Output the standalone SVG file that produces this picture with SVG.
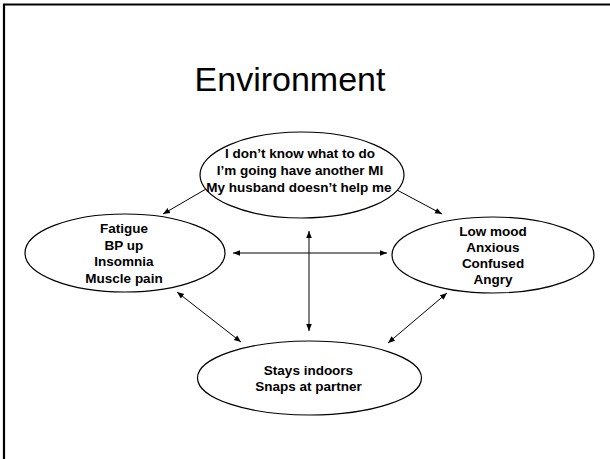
<svg xmlns="http://www.w3.org/2000/svg" width="610" height="459" viewBox="0 0 610 459">
<defs>
<marker id="ah" viewBox="0 0 10 10" refX="10" refY="5" markerWidth="7" markerHeight="7" orient="auto-start-reverse" markerUnits="userSpaceOnUse">
<path d="M0,1 L10,5 L0,9 Z" fill="#000"/>
</marker>
</defs>
<style>
.node ellipse{fill:#fff;stroke:#000;stroke-width:1.2}
.lbl{font-family:"Liberation Sans",Arial,sans-serif;font-weight:bold;font-size:13.5px;text-anchor:middle;fill:#000}
.title{font-family:"Liberation Sans",Arial,sans-serif;font-size:34px;text-anchor:middle;fill:#000}
.conn line{stroke:#000;stroke-width:1}
</style>
<rect x="0" y="0" width="610" height="459" fill="#fff"/>
<g id="frame">
<line x1="3" y1="4.5" x2="610" y2="4.5" stroke="#000" stroke-width="2.2"/>
<line x1="4" y1="4" x2="4" y2="459" stroke="#000" stroke-width="2.2"/>
</g>
<text class="title" x="290" y="91">Environment</text>
<g id="connectors" class="conn">
<line x1="206" y1="189" x2="163" y2="214" marker-end="url(#ah)"/>
<line x1="397" y1="190" x2="442" y2="214" marker-end="url(#ah)"/>
<line x1="233" y1="253" x2="387" y2="253" marker-start="url(#ah)" marker-end="url(#ah)"/>
<line x1="309" y1="231" x2="309" y2="331" marker-start="url(#ah)" marker-end="url(#ah)"/>
<line x1="177" y1="292" x2="241" y2="342" marker-start="url(#ah)" marker-end="url(#ah)"/>
<line x1="447" y1="293" x2="388" y2="343" marker-start="url(#ah)" marker-end="url(#ah)"/>
</g>
<g id="thoughts" class="node">
<ellipse cx="302" cy="175" rx="102" ry="43"/>
<text class="lbl" x="300" y="158">I don’t know what to do</text>
<text class="lbl" x="300" y="175">I’m going have another MI</text>
<text class="lbl" x="299" y="192">My husband doesn’t help me</text>
</g>
<g id="physical" class="node">
<ellipse cx="125" cy="253" rx="100" ry="39"/>
<text class="lbl" x="124" y="233">Fatigue</text>
<text class="lbl" x="124" y="249.5">BP up</text>
<text class="lbl" x="124" y="266">Insomnia</text>
<text class="lbl" x="124" y="282.5">Muscle pain</text>
</g>
<g id="emotions" class="node">
<ellipse cx="493" cy="255" rx="101" ry="38"/>
<text class="lbl" x="493" y="236">Low mood</text>
<text class="lbl" x="493" y="252">Anxious</text>
<text class="lbl" x="493" y="268">Confused</text>
<text class="lbl" x="493" y="284">Angry</text>
</g>
<g id="behaviour" class="node">
<ellipse cx="309.5" cy="378" rx="112" ry="37"/>
<text class="lbl" x="308.5" y="375">Stays indoors</text>
<text class="lbl" x="308.5" y="391">Snaps at partner</text>
</g>
</svg>
